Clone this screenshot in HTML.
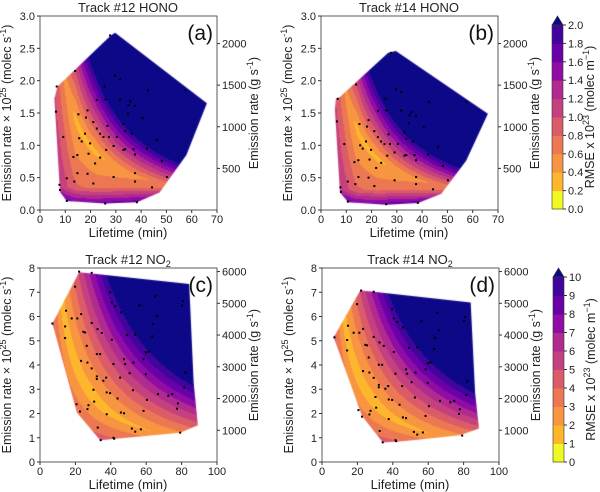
<!DOCTYPE html>
<html><head><meta charset="utf-8">
<style>
body{margin:0;background:#fff;width:600px;height:492px;overflow:hidden;position:relative;font-family:"Liberation Sans",sans-serif;}
canvas{position:absolute;left:0;top:0;}
svg{position:absolute;left:0;top:0;}
</style></head>
<body>
<canvas id="cv" width="600" height="492"></canvas>
<svg id="sv" width="600" height="492"></svg>
<script>
const levelColors = ['#f0f921','#feb72d','#f89540','#ec7853','#db5c68','#c5407e','#b12a90','#8f0da4','#6a00a8','#41049d','#0d0887'];
const hullA_t = [5.7,6.9,28,29.7,66,57.9,47.3,38.3,25.8,10.6,7.9];
const hullA_E = [1.72,1.91,2.70,2.74,1.65,0.85,0.27,0.12,0.10,0.14,0.28];
const hullB_t = [5.9,5.5,7.5,10.8,25.9,38.4,47.6,57.4,66,29.6,26.6,6.7];
const hullB_E = [1.72,1.55,0.27,0.12,0.08,0.11,0.25,0.76,1.49,2.46,2.43,1.72];
const hullC_t = [7,22.1,29.2,84.3,86.8,89.2,79.2,34,20.8];
const hullC_E = [5.71,7.82,7.77,7.34,3.28,1.52,1.21,0.9,2.04];
const hullD_t = [6.6,21.6,29.1,84,86.5,88.7,78,47,34.4,22.6];
const hullD_E = [5.14,7.07,7.02,6.58,2.86,1.38,1.10,0.87,0.80,1.90];
const ptsHONO_t = [27.7,29.7,31.7,25.5,13.9,42.7,57.5,25.9,22.5,31.7,35.7,35.0,34.7,37.6,40.6,18.8,15.2,18.2,46.2,42.3,33.0,33.7,36.3,25.1,27.3,23.8,22.5,17.8,21.1,9.2,16.5,19.8,26.2,29.1,33.0,37.0,37.6,48.2,50.2,44.3,37.6,37.6,29.1,21.1,18.8,14.8,13.6,10.6,7.7,7.9,6.3,6.6,23.8,21.8,19.2,14.8,13.2,25.8,38.3,10.6,15.5,33.7,26.7,30.4];
const ptsA_E = [2.70,2.08,2.02,1.91,2.15,1.85,1.85,1.71,1.70,1.71,1.68,1.62,1.49,1.61,1.42,1.54,1.48,1.43,1.08,0.95,1.33,1.22,1.18,1.13,1.13,1.18,1.26,1.18,1.36,1.13,1.06,1.03,0.93,0.99,0.93,0.94,0.86,0.76,0.51,0.35,0.57,0.44,0.51,0.41,0.56,0.57,0.44,0.49,0.39,0.31,1.52,1.91,0.81,0.72,0.87,0.85,0.82,0.10,0.12,0.14,1.11,0.94,1.30,1.13];
const ptsB_E = [2.43,1.87,1.82,1.72,1.94,1.67,1.67,1.54,1.53,1.54,1.51,1.46,1.34,1.45,1.28,1.39,1.33,1.29,0.97,0.86,1.20,1.10,1.06,1.02,1.02,1.06,1.13,1.06,1.22,1.02,0.95,0.93,0.84,0.89,0.84,0.85,0.77,0.68,0.46,0.32,0.51,0.40,0.46,0.37,0.50,0.51,0.40,0.44,0.35,0.28,1.37,1.72,0.73,0.65,0.78,0.77,0.74,0.09,0.11,0.13,1.00,0.85,1.17,1.02];
const ptsNO2_t = [22.1,29.2,39.6,42.5,45.8,65.1,56.2,80.2,80.8,40.6,19.8,14.7,17.9,21.1,23.2,29.2,32.5,34.9,40.6,49.1,53.8,63.8,66.0,63.4,59.8,61.3,58.5,52.8,47.5,48.1,41.5,34.0,32.1,26.4,24.5,25.5,23.2,26.8,29.2,32.1,32.1,30.2,30.6,35.8,37.4,37.7,39.6,45.3,50.6,59.8,52.5,60.4,66.7,72.5,74.7,77.9,77.4,81.5,82.1,58.5,45.7,47.5,43.8,37.7,27.4,26.8,22.6,20.6,14.2,14.2,32.6,34.3,51.9,53.8,57.0,41.5,41.9,79.2,7.0];
const ptsC_E = [7.85,7.80,7.0,6.42,6.17,6.83,6.45,6.45,6.64,6.58,7.23,6.24,5.92,5.92,6.1,5.73,5.48,5.32,5.04,5.23,5.25,5.69,6.03,5.18,4.52,4.55,4.24,4.10,4.24,4.04,4.04,4.45,4.45,4.79,5.37,5.34,4.17,4.1,3.86,3.53,3.42,2.98,2.49,3.35,3.48,2.87,2.84,3.48,3.66,3.62,2.96,2.56,2.80,2.73,2.80,2.42,2.20,3.07,3.69,2.11,2.04,2.01,2.62,1.97,2.34,2.18,2.08,2.38,5.11,5.59,1.42,0.90,1.38,1.25,1.35,1.0,0.96,1.21,5.71];
const ptsD_E = [7.07,7.02,6.3,5.78,5.55,6.15,5.81,5.81,5.98,5.92,6.51,5.62,5.33,5.33,5.49,5.16,4.93,4.79,4.54,4.71,4.73,5.12,5.43,4.66,4.07,4.10,3.82,3.69,3.82,3.64,3.64,4.01,4.01,4.31,4.83,4.81,3.75,3.69,3.47,3.18,3.08,2.68,2.24,3.02,3.13,2.58,2.56,3.13,3.29,3.26,2.66,2.30,2.52,2.46,2.52,2.18,1.98,2.76,3.32,1.90,1.84,1.81,2.36,1.77,2.11,1.96,1.87,2.14,4.60,5.03,1.28,0.81,1.24,1.13,1.22,0.90,0.86,1.09,5.14];

const NS='http://www.w3.org/2000/svg';
const sv=document.getElementById('sv');
const ctx=document.getElementById('cv').getContext('2d');
function mk(tag,attrs,parent,text){const e=document.createElementNS(NS,tag);for(const k in attrs)e.setAttribute(k,attrs[k]);if(text!==undefined)e.innerHTML=text;(parent||sv).appendChild(e);return e;}

function panel(P){
  const g=mk('g',{});
  
  
  const X=t=>P.left+t/P.xmax*177, Y=e=>P.top+P.h-e/P.ymax*P.h;
  ctx.save();ctx.beginPath();
  P.ht.forEach((t,i)=>{i?ctx.lineTo(X(t),Y(P.hE[i])):ctx.moveTo(X(t),Y(P.hE[i]));});
  ctx.closePath();ctx.clip();
  for(let px=P.left;px<P.left+177;px++)for(let py=P.top;py<P.top+P.h;py++){
    const t=(px+0.5-P.left)/177*P.xmax, e=(P.top+P.h-py-0.5)/P.h*P.ymax/P.es;
    const p=t*e;
    let v=p>P.p0?P.vmin+(p-P.p0)*P.hi:P.vmin+(P.p0-p)*P.lo;
    if(t>P.tc)v+=(t-P.tc)*P.tk;
    if(t<P.tl)v+=(P.tl-t)*P.kl;
    if(e<P.eb)v+=(P.eb-e)*P.ke;
    let idx=Math.floor(v/P.step);if(idx>10)idx=10;if(idx<0)idx=0;
    ctx.fillStyle=levelColors[idx];ctx.fillRect(px,py,1,1);
  }
  ctx.restore();
  P.pt.forEach((t,i)=>{
    const r=mk('rect',{x:X(t)-1,y:Y(P.pE[i])-1,width:2,height:2,fill:'#000'},g);
    
    
  });
  const f=mk('rect',{x:P.left,y:P.top,width:177,height:P.h,fill:'none',stroke:'#333','stroke-width':0.8},g);
  
  for(let v=0;v<=P.xmax+1e-9;v+=P.xs){
    mk('line',{x1:X(v),x2:X(v),y1:P.top+P.h,y2:P.top+P.h+3,stroke:'#333'},g);
    const tx=mk('text',{x:X(v),y:P.top+P.h+13,'font-size':11,'text-anchor':'middle',fill:'#222'},g,v);
    
  }
  for(let v=0;v<=P.ymax+1e-9;v+=P.ys){
    mk('line',{x1:P.left-3,x2:P.left,y1:Y(v),y2:Y(v),stroke:'#333'},g);
    const tx=mk('text',{x:P.left-5,y:Y(v)+4,'font-size':11,'text-anchor':'end',fill:'#222'},g,P.ys<1?v.toFixed(1):v);
    
  }
  P.rt.forEach(v=>{const yy=Y(v/P.fac);
    mk('line',{x1:P.left+177,x2:P.left+180,y1:yy,y2:yy,stroke:'#333'},g);
    const tx=mk('text',{x:P.left+182,y:yy+4,'font-size':11,fill:'#222'},g,v);
    
  });
  const ti=mk('text',{x:P.left+88,y:P.top-4,'font-size':13,'text-anchor':'middle',fill:'#222'},g,P.title);
  
  const le=mk('text',{x:P.left+173,y:P.top+24,'font-size':21,'text-anchor':'end',fill:'#111'},g,P.letter);
  
  const xl=mk('text',{x:P.left+88,y:P.top+P.h+27,'font-size':13,'text-anchor':'middle',fill:'#222'},g,'Lifetime (min)');
  
  const cy=P.top+P.h/2;
  const yl=mk('text',{x:0,y:0,'font-size':12.5,'text-anchor':'middle',fill:'#222',transform:`translate(${P.left-29},${cy}) rotate(-90)`},g,'Emission rate × 10<tspan dy="-5" font-size="9">25</tspan><tspan dy="5"> (molec s</tspan><tspan dy="-5" font-size="9">-1</tspan><tspan dy="5">)</tspan>');
  
  const rl=mk('text',{x:0,y:0,'font-size':12.5,'text-anchor':'middle',fill:'#222',transform:`translate(${P.left+218},${cy}) rotate(-90)`},g,'Emission rate (g s<tspan dy="-5" font-size="9">-1</tspan><tspan dy="5">)</tspan>');
  
}
const hono={xmax:70,xs:10,ymax:3,ys:0.5,fac:777,rt:[500,1000,1500,2000],p0:20,vmin:0.35,hi:0.065,lo:0.032,tc:22,tk:0.012,tl:14,kl:0.045,eb:0.35,ke:3,step:0.2,h:194};
const no2={xmax:100,xs:20,ymax:8,ys:1,fac:764,rt:[1000,2000,3000,4000,5000,6000],p0:80,vmin:1.5,hi:0.04,lo:0.06,tc:30,tk:0.015,tl:15,kl:0.05,eb:0,ke:0,step:1,h:194};
panel(Object.assign({},hono,{name:'panel-a',left:40,top:16,es:1,ht:hullA_t,hE:hullA_E,pt:ptsHONO_t,pE:ptsA_E,title:'Track #12 HONO',letter:'(a)'}));
panel(Object.assign({},hono,{name:'panel-b',left:321,top:16,es:0.9,ht:hullB_t,hE:hullB_E,pt:ptsHONO_t,pE:ptsB_E,title:'Track #14 HONO',letter:'(b)'}));
panel(Object.assign({},no2,{name:'panel-c',left:40,top:268,es:1,ht:hullC_t,hE:hullC_E,pt:ptsNO2_t,pE:ptsC_E,title:'Track #12 NO<tspan dy="3" font-size="9">2</tspan>',letter:'(c)'}));
panel(Object.assign({},no2,{name:'panel-d',left:322,top:268,es:0.9,ht:hullD_t,hE:hullD_E,pt:ptsNO2_t,pE:ptsD_E,title:'Track #14 NO<tspan dy="3" font-size="9">2</tspan>',letter:'(d)'}));

function colorbar(x,top,bot,tip,step,dec,name){
  const g=mk('g',{});
  
  const w=11,hh=(bot-top)/10;
  for(let i=0;i<10;i++)mk('rect',{x:x,y:bot-(i+1)*hh,width:w,height:hh+0.5,fill:levelColors[i]},g);
  mk('polygon',{points:`${x},${top} ${x+w/2},${tip} ${x+w},${top}`,fill:levelColors[10],stroke:'#333','stroke-width':0.6},g);
  mk('rect',{x:x,y:top,width:w,height:bot-top,fill:'none',stroke:'#333','stroke-width':0.6},g);
  for(let i=0;i<=10;i++){const yy=bot-i*hh;
    mk('line',{x1:x+w,x2:x+w+3,y1:yy,y2:yy,stroke:'#333'},g);
    const tx=mk('text',{x:x+w+5,y:yy+4,'font-size':11,fill:'#222'},g,(i*step).toFixed(dec));
    
  }
  const l=mk('text',{x:0,y:0,'font-size':12.5,'text-anchor':'middle',fill:'#222',transform:`translate(${x+42},${(top+bot)/2}) rotate(-90)`},g,'RMSE x 10<tspan dy="-5" font-size="9">23</tspan><tspan dy="5"> (molec m</tspan><tspan dy="-5" font-size="9">−1</tspan><tspan dy="5">)</tspan>');
  
}
colorbar(552,25,209,16,0.2,1,'colorbar-hono');
colorbar(553,277,462,268,1,0,'colorbar-no2');
</script>
</body></html>
